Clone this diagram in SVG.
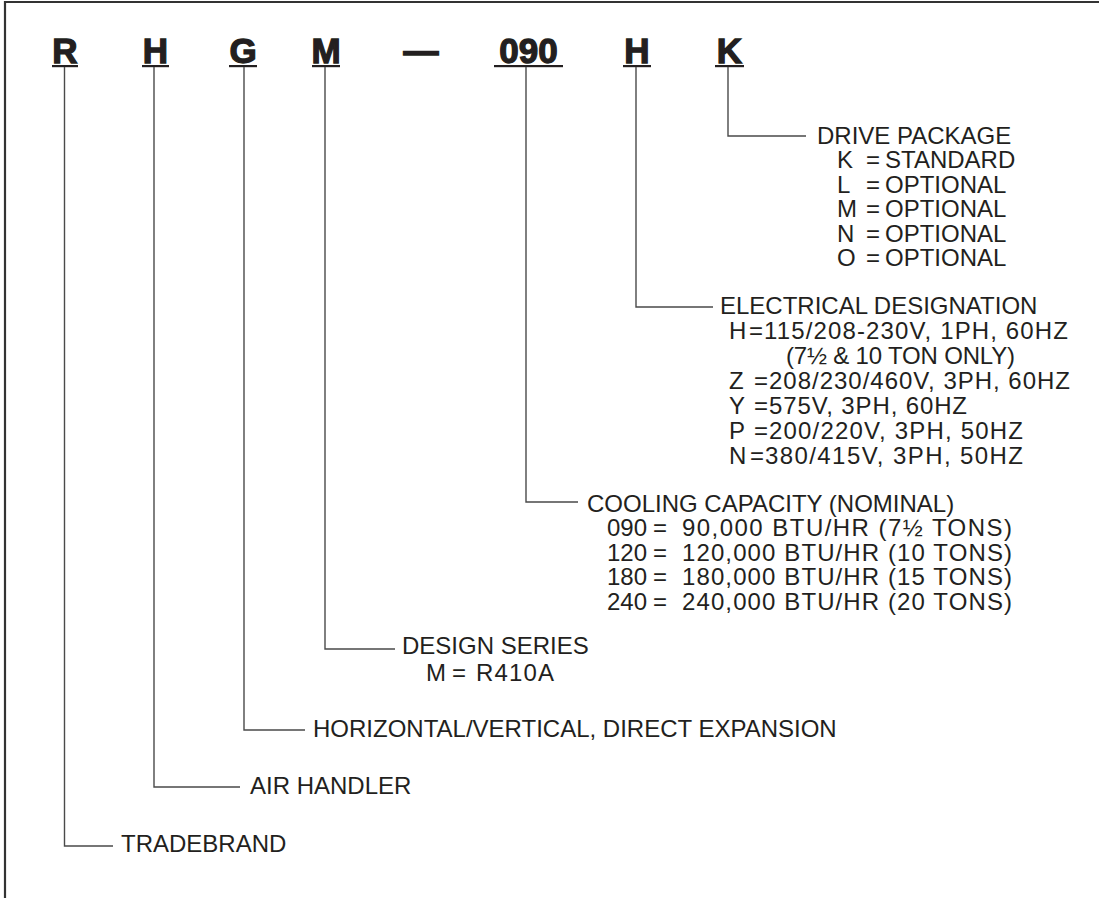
<svg xmlns="http://www.w3.org/2000/svg" width="1099" height="898" viewBox="0 0 1099 898">
<style>
.code{font-family:"Liberation Sans",Arial,sans-serif;font-weight:bold;font-size:35px;fill:#231f20;stroke:#231f20;stroke-width:1.3;text-anchor:middle}
.ul{fill:#231f20}
.t{font-family:"Liberation Sans",Arial,sans-serif;font-size:24px;fill:#231f20}
.c{fill:none;stroke:#4a4a4a;stroke-width:1.4}
.frame{fill:none;stroke:#333;stroke-width:2.2}
</style>
<rect width="1099" height="898" fill="#fff"/>
<path class="frame" d="M5,898 V2 H1099"/>
<g id="code">
<text class="code" x="65" y="63">R</text>
<text class="code" x="155.5" y="63">H</text>
<text class="code" x="243" y="63">G</text>
<text class="code" x="326" y="63">M</text>
<text class="code" x="421" y="63">—</text>
<text class="code" x="528.5" y="63">090</text>
<text class="code" x="637" y="63">H</text>
<text class="code" x="729.5" y="63">K</text>
<rect class="ul" x="52" y="65" width="26" height="2.2"/>
<rect class="ul" x="142" y="65" width="27" height="2.2"/>
<rect class="ul" x="229" y="65" width="28" height="2.2"/>
<rect class="ul" x="312" y="65" width="28" height="2.2"/>
<rect class="ul" x="494" y="65" width="69" height="2.2"/>
<rect class="ul" x="623" y="65" width="28" height="2.2"/>
<rect class="ul" x="715" y="65" width="29" height="2.2"/>
</g>
<g id="connectors">
<path class="c" d="M728,67 V136 H806"/>
<path class="c" d="M636,67 V307 H713"/>
<path class="c" d="M526,67 V502 H578"/>
<path class="c" d="M325,67 V649 H395"/>
<path class="c" d="M244,67 V730 H305"/>
<path class="c" d="M154,67 V787 H240"/>
<path class="c" d="M64.5,67 V846 H113"/>
</g>
<g id="drive-package">
<text class="t" x="817" y="143.5">DRIVE PACKAGE</text>
<text class="t" x="837" y="168">K</text><text class="t" x="866" y="168">=</text><text class="t" x="885" y="168">STANDARD</text>
<text class="t" x="837" y="192.5">L</text><text class="t" x="866" y="192.5">=</text><text class="t" x="885" y="192.5">OPTIONAL</text>
<text class="t" x="837" y="217">M</text><text class="t" x="866" y="217">=</text><text class="t" x="885" y="217">OPTIONAL</text>
<text class="t" x="837" y="241.5">N</text><text class="t" x="866" y="241.5">=</text><text class="t" x="885" y="241.5">OPTIONAL</text>
<text class="t" x="837" y="266">O</text><text class="t" x="866" y="266">=</text><text class="t" x="885" y="266">OPTIONAL</text>
</g>
<g id="electrical-designation">
<text class="t" x="720" y="314">ELECTRICAL DESIGNATION</text>
<text class="t" x="729" y="339">H</text><text class="t" x="749" y="339">=</text><text class="t" x="764" y="339" textLength="304" lengthAdjust="spacing">115/208-230V, 1PH, 60HZ</text>
<text class="t" x="786" y="364" textLength="229" lengthAdjust="spacing">(7½ &amp; 10 TON ONLY)</text>
<text class="t" x="729" y="389">Z</text><text class="t" x="754" y="389">=</text><text class="t" x="769" y="389" textLength="301" lengthAdjust="spacing">208/230/460V, 3PH, 60HZ</text>
<text class="t" x="729" y="414">Y</text><text class="t" x="754" y="414">=</text><text class="t" x="769" y="414" textLength="198" lengthAdjust="spacing">575V, 3PH, 60HZ</text>
<text class="t" x="729" y="439">P</text><text class="t" x="754" y="439">=</text><text class="t" x="769" y="439" textLength="254" lengthAdjust="spacing">200/220V, 3PH, 50HZ</text>
<text class="t" x="729" y="464">N</text><text class="t" x="750" y="464">=</text><text class="t" x="765" y="464" textLength="258" lengthAdjust="spacing">380/415V, 3PH, 50HZ</text>
</g>
<g id="cooling-capacity">
<text class="t" x="587" y="511.5">COOLING CAPACITY (NOMINAL)</text>
<text class="t" x="607" y="536">090</text><text class="t" x="653" y="536">=</text><text class="t" x="682" y="536" textLength="330" lengthAdjust="spacing">90,000 BTU/HR (7½ TONS)</text>
<text class="t" x="607" y="560.5">120</text><text class="t" x="653" y="560.5">=</text><text class="t" x="682" y="560.5" textLength="330" lengthAdjust="spacing">120,000 BTU/HR (10 TONS)</text>
<text class="t" x="607" y="585">180</text><text class="t" x="653" y="585">=</text><text class="t" x="682" y="585" textLength="330" lengthAdjust="spacing">180,000 BTU/HR (15 TONS)</text>
<text class="t" x="607" y="609.5">240</text><text class="t" x="653" y="609.5">=</text><text class="t" x="682" y="609.5" textLength="330" lengthAdjust="spacing">240,000 BTU/HR (20 TONS)</text>
</g>
<g id="design-series">
<text class="t" x="402" y="654">DESIGN SERIES</text>
<text class="t" x="426" y="681">M</text><text class="t" x="452" y="681">=</text><text class="t" x="476" y="681" textLength="78" lengthAdjust="spacing">R410A</text>
</g>
<g id="horizontal-vertical">
<text class="t" x="313" y="737">HORIZONTAL/VERTICAL, DIRECT EXPANSION</text>
</g>
<g id="air-handler">
<text class="t" x="250" y="794">AIR HANDLER</text>
</g>
<g id="tradebrand">
<text class="t" x="121" y="852">TRADEBRAND</text>
</g>
</svg>
